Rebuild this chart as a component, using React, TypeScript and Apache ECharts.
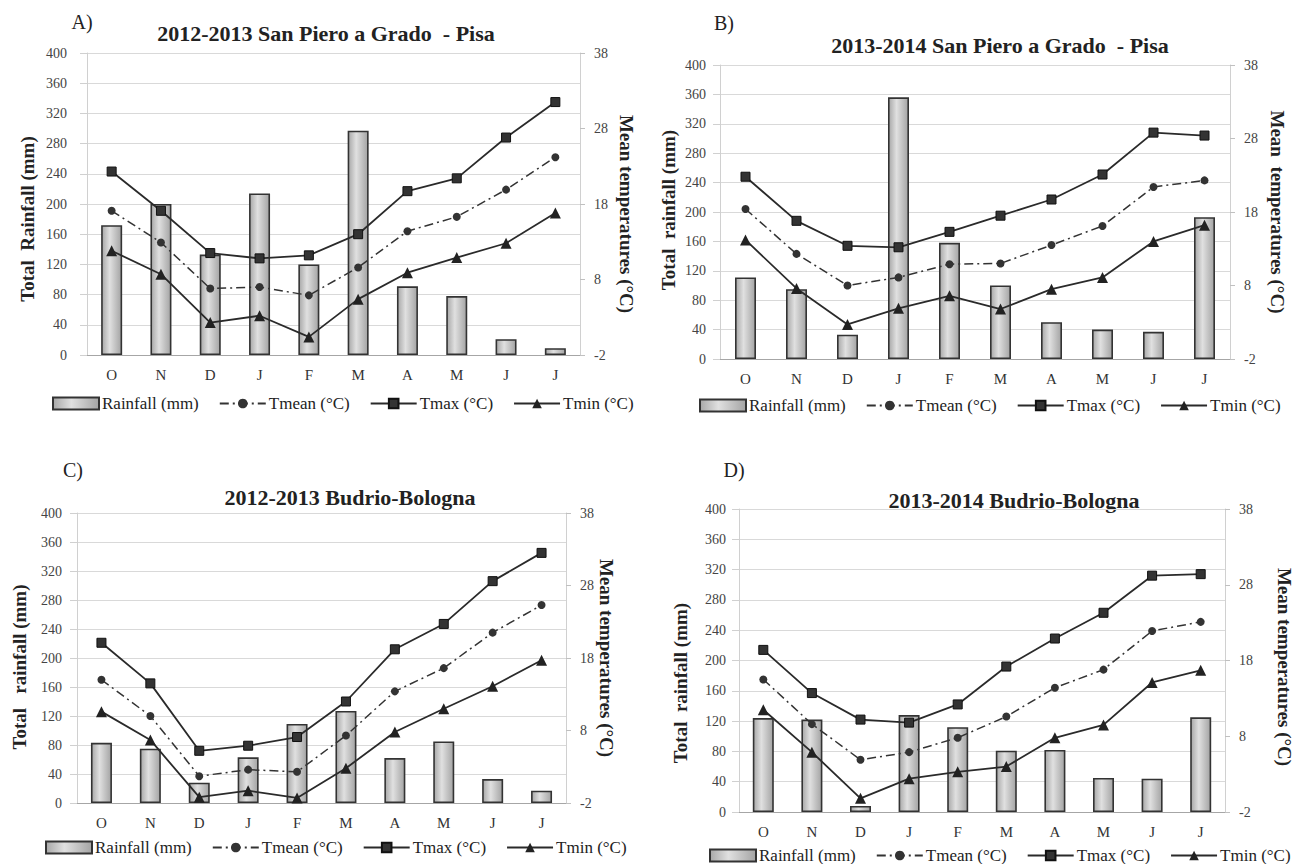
import React, { useEffect, useRef } from 'react';
import * as echarts from 'echarts';

const SERIF = 'Liberation Serif, Times New Roman, serif';

// ---- data ----
const months = ['O', 'N', 'D', 'J', 'F', 'M', 'A', 'M', 'J', 'J'];
const rainTicksMax = 400;
const tempMin = -2;
const tempMax = 38;

const rainA = [172, 200, 133, 214, 120, 297, 91, 78, 21, 9];
const tmeanA = [17.1, 12.9, 6.8, 7.0, 5.9, 9.6, 14.4, 16.3, 19.9, 24.2];
const tmaxA = [22.3, 17.1, 11.5, 10.8, 11.2, 14.0, 19.7, 21.4, 26.8, 31.5];
const tminA = [11.8, 8.7, 2.3, 3.2, 0.4, 5.4, 8.9, 10.9, 12.8, 16.8];

const rainB = [111, 95, 33, 356, 158, 100, 50, 40, 37, 193];
const tmeanB = [18.4, 12.3, 8.0, 9.1, 10.9, 11.0, 13.5, 16.1, 21.4, 22.3];
const tmaxB = [22.8, 16.8, 13.4, 13.2, 15.3, 17.5, 19.7, 23.1, 28.8, 28.4];
const tminB = [14.2, 7.6, 2.7, 4.9, 6.6, 4.8, 7.5, 9.1, 14.0, 16.2];

const rainC = [83, 75, 28, 63, 109, 127, 62, 85, 33, 17];
const tmeanC = [15.0, 10.0, 1.7, 2.6, 2.3, 7.3, 13.4, 16.6, 21.5, 25.3];
const tmaxC = [20.1, 14.5, 5.2, 5.9, 7.1, 12.0, 19.2, 22.7, 28.6, 32.5];
const tminC = [10.6, 6.7, -1.2, -0.3, -1.3, 2.8, 7.8, 11.0, 14.1, 17.7];

const rainD = [124, 122, 8, 128, 112, 81, 82, 45, 44, 125];
const tmeanD = [15.5, 9.6, 4.9, 5.9, 7.8, 10.6, 14.4, 16.8, 21.9, 23.1];
const tmaxD = [19.4, 13.7, 10.2, 9.8, 12.2, 17.2, 20.9, 24.3, 29.2, 29.4];
const tminD = [11.5, 5.9, -0.2, 2.4, 3.3, 4.0, 7.8, 9.5, 15.1, 16.7];

const panelLetters = ['A)', 'B)', 'C)', 'D)'];
const titles = [
  '2012-2013 San Piero a Grado  - Pisa',
  '2013-2014 San Piero a Grado  - Pisa',
  '2012-2013 Budrio-Bologna',
  '2013-2014 Budrio-Bologna',
];
const leftNames = ['Total  Rainfall (mm)', 'Total  rainfall (mm)', 'Total   rainfall (mm)', 'Total  rainfall (mm)'];
const rightNames = ['Mean temperatures (°C)', 'Mean  temperatures (°C)', 'Mean temperatures (°C)', 'Mean temperatures (°C)'];
const seriesNames = ['Rainfall (mm)', 'Tmean (°C)', 'Tmax (°C)', 'Tmin (°C)'];

// ---- layout (positions only) ----
const layouts = [
  { grid: { left: 87, top: 53, width: 493, height: 302 }, letter: [82, 22], title: [326, 33], lname: [27, 219], rname: [626, 214], legend: [47, 390], lmargin: 20 },
  { grid: { left: 720, top: 65, width: 510, height: 294 }, letter: [724, 23], title: [1000, 45], lname: [668, 210], rname: [1277, 212], legend: [694, 392], lmargin: 14 },
  { grid: { left: 77, top: 513, width: 489, height: 290 }, letter: [73, 470], title: [350, 497], lname: [19, 667], rname: [606, 658], legend: [40, 834], lmargin: 15 },
  { grid: { left: 739, top: 509, width: 486, height: 303 }, letter: [734, 470], title: [1014, 500], lname: [680, 683], rname: [1284, 667], legend: [704, 842], lmargin: 13 },
];

const panelData = [
  [rainA, tmeanA, tmaxA, tminA],
  [rainB, tmeanB, tmaxB, tminB],
  [rainC, tmeanC, tmaxC, tminC],
  [rainD, tmeanD, tmaxD, tminD],
];

function buildOption() {
  const grids: any[] = [];
  const xAxes: any[] = [];
  const yAxes: any[] = [];
  const series: any[] = [];
  const legends: any[] = [];
  const graphics: any[] = [];

  const barFill = new echarts.graphic.LinearGradient(0, 0, 1, 0, [
    { offset: 0, color: '#a8a8a8' },
    { offset: 0.4, color: '#e0e0e0' },
    { offset: 1, color: '#a4a4a4' },
  ]);

  layouts.forEach((L, i) => {
    grids.push({ ...L.grid, containLabel: false });
    xAxes.push({
      type: 'category',
      gridIndex: i,
      data: months,
      axisLine: { show: true, lineStyle: { color: '#a6a6a6', width: 1 } },
      axisTick: { show: false },
      axisLabel: { fontFamily: SERIF, fontSize: 15, color: '#333', margin: 12 },
    });
    yAxes.push({
      type: 'value',
      gridIndex: i,
      position: 'left',
      min: 0,
      max: rainTicksMax,
      interval: 40,
      axisLine: { show: true, lineStyle: { color: '#d0d0d0' } },
      axisTick: { show: true, length: 7, lineStyle: { color: '#d0d0d0' } },
      splitLine: { show: true, lineStyle: { color: '#d9d9d9', width: 1 } },
      axisLabel: { fontFamily: SERIF, fontSize: 14, color: '#444', margin: L.lmargin },
    });
    yAxes.push({
      type: 'value',
      gridIndex: i,
      position: 'right',
      min: tempMin,
      max: tempMax,
      interval: 10,
      axisLine: { show: true, lineStyle: { color: '#d0d0d0' } },
      axisTick: { show: true, length: 5, lineStyle: { color: '#c0c0c0' } },
      splitLine: { show: false },
      axisLabel: { fontFamily: SERIF, fontSize: 14, color: '#444', margin: 14 },
    });

    const [rain, tmean, tmax, tmin] = panelData[i];
    series.push({
      type: 'bar',
      name: seriesNames[0],
      xAxisIndex: i,
      yAxisIndex: 2 * i,
      data: rain,
      barWidth: 21,
      itemStyle: { color: barFill, borderColor: '#333', borderWidth: 1.6 },
    });
    series.push({
      type: 'line',
      name: seriesNames[1],
      xAxisIndex: i,
      yAxisIndex: 2 * i + 1,
      data: tmean,
      symbol: 'circle',
      symbolSize: 8,
      lineStyle: { color: '#333', width: 1.5, type: [9, 4, 2, 4] },
      itemStyle: { color: '#333' },
    });
    series.push({
      type: 'line',
      name: seriesNames[2],
      xAxisIndex: i,
      yAxisIndex: 2 * i + 1,
      data: tmax,
      symbol: 'rect',
      symbolSize: 9,
      lineStyle: { color: '#2a2a2a', width: 1.8 },
      itemStyle: { color: '#333', borderColor: '#111', borderWidth: 1 },
    });
    series.push({
      type: 'line',
      name: seriesNames[3],
      xAxisIndex: i,
      yAxisIndex: 2 * i + 1,
      data: tmin,
      symbol: 'triangle',
      symbolSize: 11,
      lineStyle: { color: '#2a2a2a', width: 1.8 },
      itemStyle: { color: '#222' },
    });

    legends.push({
      left: L.legend[0],
      top: L.legend[1],
      orient: 'horizontal',
      itemWidth: 46,
      itemHeight: 12,
      itemGap: 20,
      selectedMode: false,
      textStyle: { fontFamily: SERIF, fontSize: 17, color: '#222', padding: [0, 0, 0, -2] },
      data: [
        { name: seriesNames[0], icon: 'rect' },
        seriesNames[1],
        seriesNames[2],
        seriesNames[3],
      ],
    });

    graphics.push({
      type: 'text',
      x: L.letter[0],
      y: L.letter[1],
      style: { text: panelLetters[i], font: `20px ${SERIF}`, fill: '#222', textAlign: 'center', textVerticalAlign: 'middle' },
    });
    graphics.push({
      type: 'text',
      x: L.title[0],
      y: L.title[1],
      style: { text: titles[i], font: `bold 22px ${SERIF}`, fill: '#222', textAlign: 'center', textVerticalAlign: 'middle' },
    });
    graphics.push({
      type: 'text',
      x: L.lname[0],
      y: L.lname[1],
      rotation: Math.PI / 2,
      style: { text: leftNames[i], font: `bold 19px ${SERIF}`, fill: '#222', textAlign: 'center', textVerticalAlign: 'middle' },
    });
    graphics.push({
      type: 'text',
      x: L.rname[0],
      y: L.rname[1],
      rotation: -Math.PI / 2,
      style: { text: rightNames[i], font: `bold 19px ${SERIF}`, fill: '#222', textAlign: 'center', textVerticalAlign: 'middle' },
    });
  });

  return {
    animation: false,
    backgroundColor: '#ffffff',
    grid: grids,
    xAxis: xAxes,
    yAxis: yAxes,
    series,
    legend: legends,
    graphic: graphics,
  };
}

export default function App() {
  const ref = useRef<HTMLDivElement>(null);
  useEffect(() => {
    if (!ref.current) return;
    const chart = echarts.init(ref.current, undefined, { renderer: 'svg' });
    chart.setOption(buildOption() as any);
    return () => chart.dispose();
  }, []);
  return (
    <div
      ref={ref}
      style={{ position: 'fixed', left: 0, top: 0, width: 1301, height: 864, background: '#fff' }}
    />
  );
}
